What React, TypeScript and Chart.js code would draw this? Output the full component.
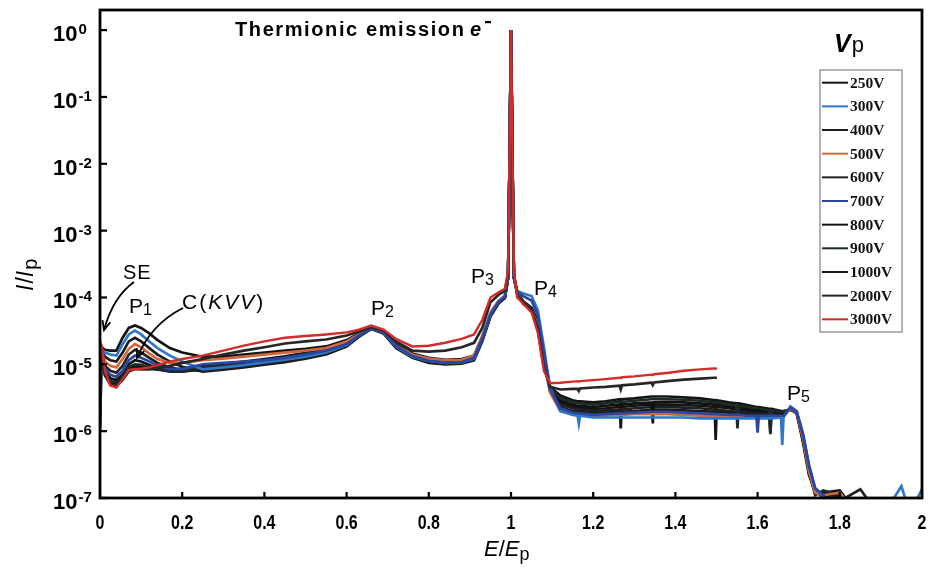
import React, { useEffect, useRef } from 'react';
import { Chart, registerables } from 'chart.js';

Chart.register(...registerables);

// E/Ep sample grid (shared by all series)
const energy = [
  0, 0.004, 0.012, 0.025, 0.04, 0.055, 0.07, 0.085, 0.1, 0.12, 0.14, 0.17, 0.2, 0.25, 0.3,
  0.35, 0.4, 0.45, 0.5, 0.55, 0.6, 0.63, 0.66, 0.69, 0.72, 0.76, 0.8, 0.84, 0.88, 0.91,
  0.93, 0.95, 0.97, 0.985, 0.993, 0.997, 1.0, 1.003, 1.007, 1.015, 1.03, 1.05, 1.065, 1.08, 1.095,
  1.12, 1.15, 1.162, 1.165, 1.168, 1.2, 1.23, 1.264, 1.267, 1.27, 1.3, 1.342, 1.345, 1.348, 1.38, 1.42, 1.46, 1.495, 1.498, 1.501, 1.53, 1.548, 1.551,
  1.554, 1.575, 1.597, 1.6, 1.603, 1.628, 1.631, 1.634, 1.657, 1.66, 1.663, 1.68, 1.695, 1.71, 1.725, 1.74, 1.76, 1.8, 1.85, 1.9, 1.95, 1.97, 2.0,
];

const vp250 = [
  1.0e-6, 1.8e-5, 1.65e-5, 1.6e-5, 1.6e-5, 2.5e-5, 3.5e-5, 3.8e-5, 3.5e-5, 2.9e-5, 2.3e-5, 1.75e-5, 1.5e-5, 1.3e-5, 1.3e-5,
  1.4e-5, 1.5e-5, 1.6e-5, 1.7e-5, 1.85e-5, 2.3e-5, 2.9e-5, 3.5e-5, 3.1e-5, 2.0e-5, 1.4e-5, 1.2e-5, 1.12e-5, 1.15e-5, 1.3e-5,
  2.4e-5, 5.5e-5, 8.5e-5, 1.0e-4, 2.0e-4, 2.0e-2, 1, 2.0e-2, 2.0e-4, 1.2e-4, 8e-5, 6.5e-5, 4e-5, 1.2e-5, 4e-6,
  2.7e-6, 2.35e-6, 2.25e-6, 2.25e-6, 2.25e-6, 2.15e-6, 2.2e-6, 2.3e-6, 2.3e-6, 2.3e-6, 2.4e-6, 2.5e-6, 2.5e-6, 2.5e-6, 2.5e-6, 2.45e-6, 2.4e-6, 2.3e-6, 2.3e-6, 2.3e-6, 2.2e-6, 2.1e-6, 2.1e-6,
  2.1e-6, 2.0e-6, 1.95e-6, 1.95e-6, 1.95e-6, 1.9e-6, 9.5e-7, 1.9e-6, 1.85e-6, 1.85e-6, 1.85e-6, 2.15e-6, 1.9e-6, 7.5e-7, 2.4e-7, 1.15e-7, 1.2e-7, 1.3e-7, 5e-8, 5e-8, 5e-8, 5e-8, 5e-8,
];

const vp300 = [
  1.8e-5, 1.7e-5, 1.5e-5, 1.4e-5, 1.35e-5, 2.0e-5, 2.8e-5, 3.2e-5, 2.8e-5, 2.2e-5, 1.75e-5, 1.35e-5, 1.1e-5, 8.4e-6, 9e-6,
  9.7e-6, 1.07e-5, 1.17e-5, 1.3e-5, 1.5e-5, 1.95e-5, 2.7e-5, 3.5e-5, 3.0e-5, 1.85e-5, 1.3e-5, 1.12e-5, 1.05e-5, 1.07e-5, 1.22e-5,
  2.4e-5, 5.6e-5, 8.8e-5, 1.05e-4, 2.0e-4, 2.0e-2, 1, 2.0e-2, 2.0e-4, 1.25e-4, 1.15e-4, 1.05e-4, 6.5e-5, 1.8e-5, 4.5e-6,
  2.0e-6, 1.75e-6, 1.7e-6, 1.3e-6, 1.7e-6, 1.6e-6, 1.6e-6, 1.6e-6, 1.6e-6, 1.6e-6, 1.6e-6, 1.6e-6, 1.6e-6, 1.6e-6, 1.6e-6, 1.6e-6, 1.55e-6, 1.55e-6, 1.55e-6, 1.55e-6, 1.55e-6, 1.55e-6, 1.55e-6,
  1.55e-6, 1.55e-6, 1.55e-6, 1.55e-6, 1.55e-6, 1.55e-6, 1.55e-6, 1.55e-6, 1.6e-6, 6.2e-7, 1.6e-6, 2.35e-6, 2.0e-6, 9.5e-7, 3.2e-7, 1.4e-7, 1.05e-7, 5e-8, 5e-8, 5e-8, 1.5e-7, 6e-8, 1.35e-7,
];

const vp400 = [
  1.8e-5, 1.6e-5, 1.3e-5, 1.15e-5, 1.1e-5, 1.5e-5, 2.2e-5, 2.5e-5, 2.2e-5, 1.75e-5, 1.4e-5, 1.1e-5, 9.2e-6, 7.8e-6, 8.3e-6,
  9e-6, 9.9e-6, 1.08e-5, 1.22e-5, 1.4e-5, 1.85e-5, 2.6e-5, 3.4e-5, 2.9e-5, 1.75e-5, 1.25e-5, 1.05e-5, 1.0e-5, 1.02e-5, 1.15e-5,
  2.2e-5, 5.2e-5, 8.2e-5, 9.8e-5, 2.0e-4, 2.0e-2, 1, 2.0e-2, 2.0e-4, 1.2e-4, 8e-5, 6.5e-5, 4.2e-5, 1.3e-5, 4.0e-6,
  2.3e-6, 2.0e-6, 1.95e-6, 1.95e-6, 1.95e-6, 1.85e-6, 1.9e-6, 1.95e-6, 1.95e-6, 1.95e-6, 2.0e-6, 2.1e-6, 2.1e-6, 2.1e-6, 2.1e-6, 2.05e-6, 2.0e-6, 1.95e-6, 1.95e-6, 1.95e-6, 1.9e-6, 1.85e-6, 1.85e-6,
  1.85e-6, 1.8e-6, 1.75e-6, 1.75e-6, 1.75e-6, 1.75e-6, 1.75e-6, 1.75e-6, 1.75e-6, 1.75e-6, 1.75e-6, 2.2e-6, 1.9e-6, 8e-7, 2.5e-7, 1.3e-7, 1.15e-7, 1.05e-7, 5e-8, 5e-8, 5e-8, 5e-8, 5e-8,
];

const vp500 = [
  1.8e-5, 1.5e-5, 1.1e-5, 9.5e-6, 9e-6, 1.2e-5, 1.7e-5, 2.0e-5, 1.8e-5, 1.45e-5, 1.2e-5, 1.05e-5, 1.05e-5, 1.15e-5, 1.22e-5,
  1.3e-5, 1.4e-5, 1.5e-5, 1.6e-5, 1.75e-5, 2.2e-5, 2.8e-5, 3.5e-5, 3.0e-5, 1.9e-5, 1.4e-5, 1.22e-5, 1.15e-5, 1.17e-5, 1.35e-5,
  2.6e-5, 6e-5, 9e-5, 1.05e-4, 2.1e-4, 2.1e-2, 1, 2.1e-2, 2.1e-4, 1.15e-4, 8.5e-5, 6.5e-5, 3.8e-5, 1.1e-5, 3.8e-6,
  2.0e-6, 1.8e-6, 1.75e-6, 1.75e-6, 1.75e-6, 1.65e-6, 1.7e-6, 1.75e-6, 1.75e-6, 1.75e-6, 1.8e-6, 1.8e-6, 1.8e-6, 1.8e-6, 1.8e-6, 1.75e-6, 1.7e-6, 1.7e-6, 1.7e-6, 1.7e-6, 1.65e-6, 1.65e-6, 1.65e-6,
  1.65e-6, 1.65e-6, 1.65e-6, 1.65e-6, 1.65e-6, 1.65e-6, 1.65e-6, 1.65e-6, 1.65e-6, 1.65e-6, 1.65e-6, 2.2e-6, 1.9e-6, 8e-7, 2.5e-7, 1.2e-7, 1.1e-7, 1.2e-7, 5e-8, 5e-8, 5e-8, 5e-8, 5e-8,
];

const vp600 = [
  1.8e-5, 1.45e-5, 9.5e-6, 8e-6, 7.5e-6, 9.5e-6, 1.4e-5, 1.65e-5, 1.5e-5, 1.25e-5, 1.05e-5, 9e-6, 8.2e-6, 8.1e-6, 8.7e-6,
  9.5e-6, 1.05e-5, 1.14e-5, 1.28e-5, 1.47e-5, 1.9e-5, 2.6e-5, 3.4e-5, 2.9e-5, 1.8e-5, 1.28e-5, 1.09e-5, 1.03e-5, 1.05e-5, 1.2e-5,
  2.3e-5, 5.3e-5, 8.3e-5, 9.8e-5, 2.0e-4, 2.0e-2, 1, 2.0e-2, 2.0e-4, 1.2e-4, 8.5e-5, 6.8e-5, 4.2e-5, 1.3e-5, 4.1e-6,
  2.5e-6, 2.2e-6, 2.1e-6, 2.1e-6, 2.1e-6, 2.0e-6, 2.05e-6, 2.1e-6, 2.1e-6, 2.1e-6, 2.2e-6, 2.3e-6, 2.3e-6, 2.3e-6, 2.3e-6, 2.25e-6, 2.2e-6, 2.1e-6, 2.1e-6, 2.1e-6, 2.0e-6, 1.95e-6, 1.95e-6,
  1.95e-6, 1.9e-6, 1.85e-6, 1.85e-6, 1.85e-6, 1.8e-6, 1.8e-6, 1.8e-6, 1.8e-6, 1.8e-6, 1.8e-6, 2.2e-6, 1.95e-6, 8.5e-7, 2.8e-7, 1.2e-7, 1.1e-7, 9e-8, 1.35e-7, 5e-8, 5e-8, 5e-8, 5e-8,
];

const vp700 = [
  1.8e-5, 1.4e-5, 8.5e-6, 7e-6, 6.5e-6, 8e-6, 1.15e-5, 1.35e-5, 1.25e-5, 1.1e-5, 9.5e-6, 8.5e-6, 8.5e-6, 1.0e-5, 1.05e-5,
  1.1e-5, 1.15e-5, 1.25e-5, 1.4e-5, 1.6e-5, 2.0e-5, 2.7e-5, 3.5e-5, 3.0e-5, 1.9e-5, 1.33e-5, 1.13e-5, 1.06e-5, 1.08e-5, 1.25e-5,
  2.4e-5, 5.5e-5, 8.6e-5, 1.02e-4, 2.0e-4, 2.0e-2, 1, 2.0e-2, 2.0e-4, 1.22e-4, 1.05e-4, 9e-5, 5.5e-5, 1.5e-5, 4.2e-6,
  2.2e-6, 1.9e-6, 1.85e-6, 1.85e-6, 1.85e-6, 1.75e-6, 1.8e-6, 1.85e-6, 1.85e-6, 1.85e-6, 1.9e-6, 1.95e-6, 1.95e-6, 1.95e-6, 1.95e-6, 1.9e-6, 1.85e-6, 1.8e-6, 1.8e-6, 1.8e-6, 1.75e-6, 1.75e-6, 1.75e-6,
  1.75e-6, 1.7e-6, 1.7e-6, 9.5e-7, 1.7e-6, 1.7e-6, 1.7e-6, 1.7e-6, 1.7e-6, 1.7e-6, 1.7e-6, 2.25e-6, 1.95e-6, 9e-7, 3e-7, 1.4e-7, 1.1e-7, 5e-8, 5e-8, 5e-8, 5e-8, 5e-8, 5e-8,
];

const vp800 = [
  1.8e-5, 1.35e-5, 7.8e-6, 6.2e-6, 5.8e-6, 7e-6, 1e-5, 1.15e-5, 1.1e-5, 9.8e-6, 8.8e-6, 8e-6, 7.8e-6, 8.5e-6, 9.2e-6,
  1.0e-5, 1.1e-5, 1.2e-5, 1.35e-5, 1.55e-5, 2.0e-5, 2.7e-5, 3.5e-5, 3.0e-5, 1.9e-5, 1.35e-5, 1.15e-5, 1.08e-5, 1.1e-5, 1.25e-5,
  2.4e-5, 5.5e-5, 8.5e-5, 1.0e-4, 2.0e-4, 2.0e-2, 1, 2.0e-2, 2.0e-4, 1.2e-4, 8.5e-5, 6.8e-5, 4.2e-5, 1.3e-5, 4.2e-6,
  2.9e-6, 2.5e-6, 2.4e-6, 2.4e-6, 2.4e-6, 2.3e-6, 2.4e-6, 2.5e-6, 2.5e-6, 2.5e-6, 2.6e-6, 2.7e-6, 1.3e-6, 2.7e-6, 2.75e-6, 2.7e-6, 2.6e-6, 2.5e-6, 2.5e-6, 2.5e-6, 2.35e-6, 2.25e-6, 2.25e-6,
  2.25e-6, 2.15e-6, 2.05e-6, 2.05e-6, 2.05e-6, 1.95e-6, 1.95e-6, 1.95e-6, 1.9e-6, 1.9e-6, 1.9e-6, 2.1e-6, 1.85e-6, 7e-7, 2.2e-7, 1.3e-7, 1.0e-7, 1.25e-7, 5e-8, 5e-8, 5e-8, 5e-8, 5e-8,
];

const vp900 = [
  1.2e-6, 1.3e-5, 7.2e-6, 5.6e-6, 5.3e-6, 6.5e-6, 9e-6, 1.0e-5, 9.8e-6, 9e-6, 8.4e-6, 7.8e-6, 7.8e-6, 8.9e-6, 9.6e-6,
  1.05e-5, 1.15e-5, 1.26e-5, 1.42e-5, 1.62e-5, 2.1e-5, 2.8e-5, 3.5e-5, 3.0e-5, 1.95e-5, 1.4e-5, 1.2e-5, 1.12e-5, 1.14e-5, 1.3e-5,
  2.5e-5, 5.6e-5, 8.6e-5, 1.0e-4, 2.0e-4, 2.0e-2, 1, 2.0e-2, 2.0e-4, 1.2e-4, 8.5e-5, 6.8e-5, 4.3e-5, 1.35e-5, 4.4e-6,
  3.1e-6, 2.7e-6, 2.6e-6, 2.6e-6, 2.6e-6, 2.5e-6, 2.6e-6, 2.75e-6, 2.75e-6, 2.75e-6, 2.85e-6, 3.0e-6, 3.0e-6, 3.0e-6, 3.0e-6, 2.95e-6, 2.85e-6, 2.7e-6, 2.7e-6, 2.7e-6, 2.5e-6, 2.4e-6, 1.1e-6,
  2.4e-6, 2.3e-6, 2.2e-6, 2.2e-6, 2.2e-6, 2.05e-6, 9e-7, 2.05e-6, 1.95e-6, 1.95e-6, 1.95e-6, 2.15e-6, 1.9e-6, 8e-7, 2.6e-7, 1.1e-7, 1.3e-7, 1.1e-7, 5e-8, 5e-8, 5e-8, 5e-8, 5e-8,
];

const vp1000 = [
  1.8e-5, 1.25e-5, 6.8e-6, 5.2e-6, 5e-6, 6.2e-6, 8.5e-6, 9.2e-6, 9e-6, 8.6e-6, 8.3e-6, 8.2e-6, 8.6e-6, 9.4e-6, 1.02e-5,
  1.1e-5, 1.2e-5, 1.32e-5, 1.48e-5, 1.7e-5, 2.2e-5, 2.9e-5, 3.5e-5, 3.1e-5, 2.0e-5, 1.45e-5, 1.25e-5, 1.17e-5, 1.2e-5, 1.35e-5,
  2.6e-5, 5.8e-5, 8.8e-5, 1.02e-4, 2.0e-4, 2.0e-2, 1, 2.0e-2, 2.0e-4, 1.2e-4, 8.8e-5, 7e-5, 4.5e-5, 1.4e-5, 4.6e-6,
  3.4e-6, 2.9e-6, 2.8e-6, 2.8e-6, 2.8e-6, 2.7e-6, 2.8e-6, 3.0e-6, 1.1e-6, 3.0e-6, 3.1e-6, 3.3e-6, 3.3e-6, 3.3e-6, 3.3e-6, 3.2e-6, 3.1e-6, 2.9e-6, 7.4e-7, 2.9e-6, 2.7e-6, 2.6e-6, 2.6e-6,
  2.6e-6, 2.45e-6, 2.3e-6, 2.3e-6, 2.3e-6, 2.15e-6, 2.15e-6, 2.15e-6, 2.0e-6, 2.0e-6, 2.0e-6, 2.1e-6, 1.9e-6, 9e-7, 3e-7, 1.2e-7, 1.1e-7, 8e-8, 5e-8, 5e-8, 5e-8, 5e-8, 5e-8,
];

const vp2000 = [
  2.0e-5, 1.8e-5, 7e-6, 5e-6, 4.8e-6, 5.8e-6, 7.8e-6, 8.5e-6, 8.4e-6, 8.4e-6, 8.8e-6, 9.5e-6, 1.05e-5, 1.2e-5, 1.4e-5,
  1.6e-5, 1.8e-5, 2.05e-5, 2.2e-5, 2.35e-5, 2.7e-5, 3.1e-5, 3.6e-5, 3.2e-5, 2.2e-5, 1.6e-5, 1.55e-5, 1.6e-5, 1.8e-5, 2.1e-5,
  3.5e-5, 8.5e-5, 1.1e-4, 1.25e-4, 2.3e-4, 2.2e-2, 1, 2.2e-2, 2.3e-4, 1.1e-4, 8.5e-5, 6.5e-5, 3.5e-5, 9e-6, 4.6e-6,
  4.2e-6, 4.3e-6, 4.3e-6, 4.0e-6, 4.35e-6, 4.5e-6, 4.6e-6, 4.8e-6, 4.2e-6, 4.85e-6, 5.0e-6, 5.3e-6, 4.9e-6, 5.35e-6, 5.6e-6, 5.9e-6, 6.1e-6, 6.3e-6, 6.3e-6, 6.3e-6, null, null, null,
  null, null, null, null, null, null, null, null, null, null, null, null, null, null, null, null, null, null, null, null, null, null, null,
];

const vp3000 = [
  2.2e-5, 1.9e-5, 8e-6, 4.8e-6, 4.5e-6, 6e-6, 8.2e-6, 8.5e-6, 8.6e-6, 9e-6, 9.8e-6, 1.1e-5, 1.2e-5, 1.35e-5, 1.6e-5,
  1.9e-5, 2.2e-5, 2.5e-5, 2.65e-5, 2.8e-5, 3.0e-5, 3.3e-5, 3.8e-5, 3.3e-5, 2.4e-5, 1.85e-5, 1.9e-5, 2.1e-5, 2.4e-5, 2.8e-5,
  4.6e-5, 1.0e-4, 1.2e-4, 1.35e-4, 2.5e-4, 2.5e-2, 1, 2.5e-2, 2.5e-4, 1.0e-4, 8e-5, 6e-5, 3e-5, 8e-6, 5.2e-6,
  5.3e-6, 5.5e-6, 5.6e-6, 5.5e-6, 5.6e-6, 5.8e-6, 6.0e-6, 6.3e-6, 6.2e-6, 6.4e-6, 6.6e-6, 7.0e-6, 6.9e-6, 7.1e-6, 7.4e-6, 8.0e-6, 8.4e-6, 8.7e-6, 8.6e-6, 8.8e-6, null, null, null,
  null, null, null, null, null, null, null, null, null, null, null, null, null, null, null, null, null, null, null, null, null, null, null,
];

const seriesLabels = ['250V', '300V', '400V', '500V', '600V', '700V', '800V', '900V', '1000V', '2000V', '3000V'];
const seriesValues = [vp250, vp300, vp400, vp500, vp600, vp700, vp800, vp900, vp1000, vp2000, vp3000];
const seriesColors = ['#141414', '#2f78c8', '#1b1b1b', '#d0683f', '#202020', '#2a46a0', '#111111', '#1c2b2a', '#141414', '#262626', '#d42b2b'];
const seriesOrder = [8, 3, 9, 4, 7, 2, 6, 5, 10, 1, 0];

const yTickExponents = [0, -1, -2, -3, -4, -5, -6, -7];
const xTickValues = [0, 0.2, 0.4, 0.6, 0.8, 1, 1.2, 1.4, 1.6, 1.8, 2];
const xTickLabels = ['0', '0.2', '0.4', '0.6', '0.8', '1', '1.2', '1.4', '1.6', '1.8', '2'];

const SANS = '"Liberation Sans", Arial, Helvetica, sans-serif';
const SERIF = '"Liberation Serif", "Times New Roman", serif';

type Part = { text: string; font: string; dy?: number; gap?: number };

function drawParts(ctx: CanvasRenderingContext2D, x: number, y: number, parts: Part[]) {
  let cx = x;
  for (const p of parts) {
    ctx.font = p.font;
    ctx.fillText(p.text, cx, y + (p.dy || 0));
    cx += ctx.measureText(p.text).width + (p.gap || 0);
  }
}

function drawArrow(ctx: CanvasRenderingContext2D, x0: number, y0: number, cx: number, cy: number, x1: number, y1: number) {
  ctx.beginPath();
  ctx.moveTo(x0, y0);
  ctx.quadraticCurveTo(cx, cy, x1, y1);
  ctx.stroke();
  const ang = Math.atan2(y1 - cy, x1 - cx);
  const L = 10;
  ctx.beginPath();
  ctx.moveTo(x1 - L * Math.cos(ang - 0.42), y1 - L * Math.sin(ang - 0.42));
  ctx.lineTo(x1, y1);
  ctx.lineTo(x1 - L * Math.cos(ang + 0.42), y1 - L * Math.sin(ang + 0.42));
  ctx.stroke();
}

const decorPlugin = {
  id: 'decor',
  afterDraw(chart: any) {
    const ctx: CanvasRenderingContext2D = chart.ctx;
    const { left, right, top, bottom } = chart.chartArea;
    const xs = chart.scales.x;
    const ys = chart.scales.y;
    ctx.save();
    ctx.fillStyle = '#000';
    ctx.strokeStyle = '#000';

    // frame
    ctx.lineWidth = 2.8;
    ctx.strokeRect(left, top, right - left, bottom - top);

    // y ticks and labels
    ctx.lineWidth = 2.2;
    ctx.textAlign = 'left';
    ctx.textBaseline = 'alphabetic';
    yTickExponents.forEach((e) => {
      const py = ys.getPixelForValue(Math.pow(10, e));
      ctx.beginPath();
      ctx.moveTo(left, py);
      ctx.lineTo(left + 7, py);
      ctx.stroke();
      ctx.font = `bold 22px ${SANS}`;
      ctx.fillText('10', 53, py + 11);
      const w = ctx.measureText('10').width;
      ctx.font = `bold 15px ${SANS}`;
      ctx.fillText(String(e), 53 + w + 1, py + 4);
    });

    // x ticks and labels
    xTickValues.forEach((v, i) => {
      const px = xs.getPixelForValue(v);
      ctx.beginPath();
      ctx.moveTo(px, bottom);
      ctx.lineTo(px, bottom - 6);
      ctx.stroke();
      ctx.save();
      ctx.translate(px, 529);
      ctx.scale(0.8, 1);
      ctx.font = `bold 20px ${SANS}`;
      ctx.textAlign = 'center';
      ctx.fillText(xTickLabels[i], 0, 0);
      ctx.restore();
    });

    // axis titles
    ctx.textAlign = 'left';
    drawParts(ctx, 484, 556, [
      { text: 'E', font: `italic 22px ${SANS}` },
      { text: '/', font: `22px ${SANS}` },
      { text: 'E', font: `italic 22px ${SANS}` },
      { text: 'p', font: `18px ${SANS}`, dy: 4 },
    ]);
    ctx.save();
    ctx.translate(33, 291);
    ctx.rotate(-Math.PI / 2);
    drawParts(ctx, 0, 0, [
      { text: 'I', font: `italic 23px ${SANS}`, gap: 1 },
      { text: '/', font: `23px ${SANS}` },
      { text: 'I', font: `italic 23px ${SANS}`, gap: 1 },
      { text: 'p', font: `20px ${SANS}`, dy: 4 },
    ]);
    ctx.restore();

    // legend
    const lx = 820;
    const ly = 70;
    ctx.strokeStyle = '#9a9a9a';
    ctx.lineWidth = 1.5;
    ctx.strokeRect(lx, ly, 82, 262);
    ctx.textBaseline = 'middle';
    chart.data.datasets.forEach((ds: any, i: number) => {
      const yy = ly + 12.7 + i * 23.66;
      ctx.strokeStyle = ds.borderColor;
      ctx.lineWidth = 2;
      ctx.beginPath();
      ctx.moveTo(lx + 2, yy);
      ctx.lineTo(lx + 28, yy);
      ctx.stroke();
      ctx.fillStyle = '#111';
      ctx.font = `bold 15.5px ${SERIF}`;
      ctx.fillText(ds.label, lx + 30, yy + 1);
    });
    ctx.textBaseline = 'alphabetic';
    ctx.fillStyle = '#000';
    drawParts(ctx, 834, 52, [
      { text: 'V', font: `italic bold 25px ${SANS}`, gap: 1 },
      { text: 'p', font: `22px ${SANS}`, dy: 0 },
    ]);

    // annotations
    (ctx as any).letterSpacing = '1.6px';
    drawParts(ctx, 235, 36, [{ text: 'Thermionic emission', font: `bold 20px ${SANS}` }]);
    (ctx as any).letterSpacing = '0px';
    drawParts(ctx, 470, 36, [{ text: 'e', font: `italic bold 20px ${SANS}` }]);
    ctx.fillRect(485, 21, 6, 2.2);

    (ctx as any).letterSpacing = '1px';
    drawParts(ctx, 123, 279, [{ text: 'SE', font: `20px ${SANS}` }]);
    (ctx as any).letterSpacing = '2px';
    drawParts(ctx, 182, 309, [
      { text: 'C(', font: `21px ${SANS}` },
      { text: 'KVV', font: `italic 21px ${SANS}` },
      { text: ')', font: `21px ${SANS}` },
    ]);
    (ctx as any).letterSpacing = '0px';

    const peak = (x: number, y: number, sub: string) =>
      drawParts(ctx, x, y, [
        { text: 'P', font: `21px ${SANS}` },
        { text: sub, font: `16px ${SANS}`, dy: 2 },
      ]);
    peak(129, 313, '1');
    peak(371, 315, '2');
    peak(471, 283, '3');
    peak(534, 295, '4');
    peak(787, 400, '5');

    ctx.strokeStyle = '#000';
    ctx.lineWidth = 1.8;
    drawArrow(ctx, 134, 282, 113, 297, 104, 330);
    drawArrow(ctx, 183, 308, 151, 324, 137, 358);

    ctx.restore();
  },
};

export default function App() {
  const canvasRef = useRef<HTMLCanvasElement | null>(null);

  useEffect(() => {
    const canvas = canvasRef.current;
    if (!canvas) return;
    const datasets = seriesLabels.map((label, s) => ({
      label,
      data: energy.map((e, i) => ({ x: e, y: seriesValues[s][i] ?? null })),
      borderColor: seriesColors[s],
      backgroundColor: seriesColors[s],
      borderWidth: s === 10 ? 2.4 : 2.7,
      pointRadius: 0,
      tension: 0,
      fill: false,
      spanGaps: false,
      order: seriesOrder[s],
      clip: 0,
    }));
    const chart = new Chart(canvas, {
      type: 'line',
      data: { datasets },
      options: {
        responsive: false,
        animation: false,
        events: [],
        layout: { padding: { left: 100, right: 10, top: 10, bottom: 71 } },
        scales: {
          x: { type: 'linear', min: 0, max: 2, display: false },
          y: { type: 'logarithmic', min: 1e-7, max: 2, display: false },
        },
        plugins: {
          legend: { display: false },
          tooltip: { enabled: false },
          title: { display: false },
        },
      },
      plugins: [decorPlugin],
    } as any);
    return () => chart.destroy();
  }, []);

  return (
    <div style={{ position: 'absolute', left: 0, top: 0, width: 932, height: 569, background: '#fff' }}>
      <canvas ref={canvasRef} width={932} height={569} style={{ display: 'block', width: 932, height: 569 }} />
    </div>
  );
}
